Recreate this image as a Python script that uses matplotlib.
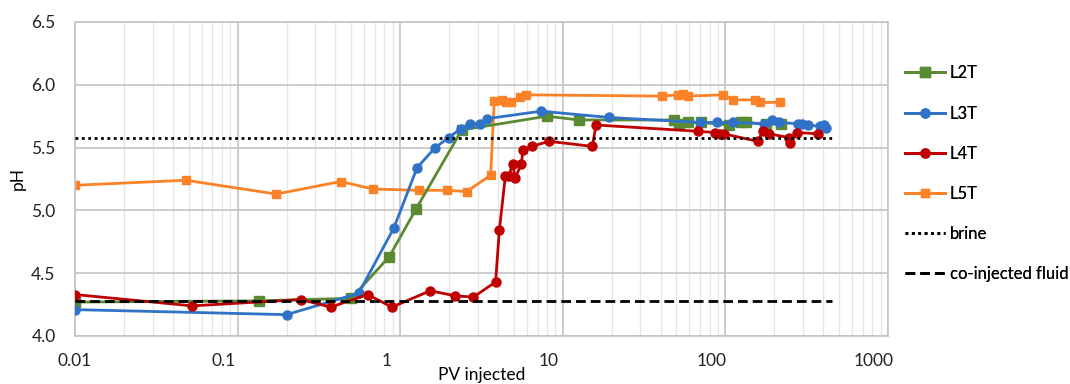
import matplotlib
matplotlib.use("Agg")
import matplotlib.pyplot as plt
from matplotlib.transforms import ScaledTranslation

plt.rcParams['font.family'] = ['Lato', 'DejaVu Sans']

# ---- data ----
l2t_x = [0.01, 0.135, 0.5, 0.855, 1.25, 2.39, 7.98, 12.6, 48.5, 52, 59, 70.8, 105, 125, 133, 178, 221]
l2t_y = [4.27, 4.28, 4.30, 4.63, 5.01, 5.64, 5.75, 5.72, 5.72, 5.69, 5.70, 5.70, 5.68, 5.70, 5.70, 5.69, 5.69]

l3t_x = [0.01, 0.2, 0.555, 0.914, 1.27, 1.64, 1.99, 2.35, 2.7, 3.08, 3.41, 7.35, 19.3,
         69.5, 89, 112, 172, 194, 215, 280, 296, 322, 380, 403, 417]
l3t_y = [4.21, 4.17, 4.34, 4.86, 5.34, 5.50, 5.58, 5.65, 5.69, 5.69, 5.73, 5.79, 5.74,
         5.70, 5.70, 5.70, 5.69, 5.72, 5.70, 5.69, 5.69, 5.68, 5.67, 5.68, 5.66]

l4t_x = [0.01, 0.0525, 0.245, 0.374, 0.63, 0.89, 1.53, 2.18, 2.82, 3.86, 4.07, 4.43, 4.65, 4.91,
         5.1, 5.56, 5.69, 6.49, 8.18, 15.2, 16.0, 67.6, 86.7, 92, 97.6, 158, 170, 185, 245, 249, 274, 370]
l4t_y = [4.33, 4.24, 4.29, 4.23, 4.33, 4.23, 4.36, 4.32, 4.31, 4.43, 4.84, 5.27, 5.27, 5.37,
         5.26, 5.37, 5.48, 5.51, 5.55, 5.51, 5.68, 5.63, 5.62, 5.61, 5.61, 5.55, 5.63, 5.61, 5.58, 5.54, 5.62, 5.61]

l5t_x = [0.01, 0.048, 0.173, 0.43, 0.68, 1.31, 1.95, 2.56, 3.6, 3.79, 4.25, 4.45, 4.77, 5.42, 5.98,
         40.9, 50.8, 55.2, 58.5, 96.8, 111, 153, 163, 218]
l5t_y = [5.20, 5.24, 5.13, 5.23, 5.17, 5.16, 5.16, 5.15, 5.28, 5.87, 5.88, 5.86, 5.86, 5.90, 5.92,
         5.91, 5.92, 5.93, 5.91, 5.92, 5.88, 5.88, 5.86, 5.86]

ref_x = [0.01, 450]
brine_ph = 5.58
coinj_ph = 4.28

xticks = [0.01, 0.1, 1, 10, 100, 1000]
xtick_labels = ['0.01', '0.1', '1', '10', '100', '1000']
yticks = [4.0, 4.5, 5.0, 5.5, 6.0, 6.5]

# ---- figure ----
W, H = 1070, 384
fig = plt.figure(figsize=(W / 100, H / 100), dpi=100)
ax = fig.add_axes([75 / W, 1 - 336 / H, (888 - 75) / W, (336 - 22) / H])

green = '#5a8a32'
blue = '#2f72c8'
red = '#c00000'
orange = '#fb8227'
FS = 12.5
LFS = 12

h2, = ax.plot(l2t_x, l2t_y, color=green, lw=2, marker='s', ms=6.5, label='L2T', zorder=3)
h3, = ax.plot(l3t_x, l3t_y, color=blue, lw=2, marker='o', ms=6.5, label='L3T', zorder=4)
h4, = ax.plot(l4t_x, l4t_y, color=red, lw=2, marker='o', ms=6.5, label='L4T', zorder=5)
h5, = ax.plot(l5t_x, l5t_y, color=orange, lw=2, marker='s', ms=5.5, label='L5T', zorder=2)
hb, = ax.plot(ref_x, [brine_ph] * 2, color='black', lw=2, ls=(0, (1, 1.3)), label='brine', zorder=6)
hc, = ax.plot(ref_x, [coinj_ph] * 2, color='black', lw=2, ls=(0, (3.5, 1.8)), label='co-injected fluid', zorder=6)

ax.set_xscale('log')
ax.set_xlim(0.01, 1000)
ax.set_ylim(4.0, 6.5)
ax.set_xticks(xticks)
ax.set_xticklabels(xtick_labels)
ax.set_yticks(yticks)
ax.set_yticklabels([f'{v:.1f}' for v in yticks])

ax.grid(True, which='major', color='#c4c4c4', lw=1.2)
ax.grid(True, which='minor', axis='x', color='#e6e6e6', lw=1.0)
ax.set_axisbelow(True)
for s in ax.spines.values():
    s.set_color('#c4c4c4')
    s.set_linewidth(1.2)
ax.tick_params(which='both', length=0, labelsize=FS, colors='#222222')
ax.tick_params(axis='x', pad=12.5)
ax.tick_params(axis='y', pad=14)

for i, lab in enumerate(ax.get_xticklabels()):
    if i > 0:
        lab.set_transform(lab.get_transform() + ScaledTranslation(-10 / 72, 0, fig.dpi_scale_trans))

ax.set_xlabel('PV injected', fontsize=FS, labelpad=-1.5)
ax.set_ylabel('pH', fontsize=FS, labelpad=4)

# legend: one row per entry, rows 40 px apart
handles = [h2, h3, h4, h5, hb, hc]
row_y = [73, 114, 154, 194, 234, 274]
for h, yy in zip(handles, row_y):
    lg = fig.legend([h], [h.get_label()], loc='center left',
                    bbox_to_anchor=(898 / W, 1 - yy / H), frameon=False,
                    fontsize=LFS, handlelength=2.4, handletextpad=0.3,
                    borderaxespad=0)
    fig.add_artist(lg)

fig.savefig('out.png', dpi=100)
